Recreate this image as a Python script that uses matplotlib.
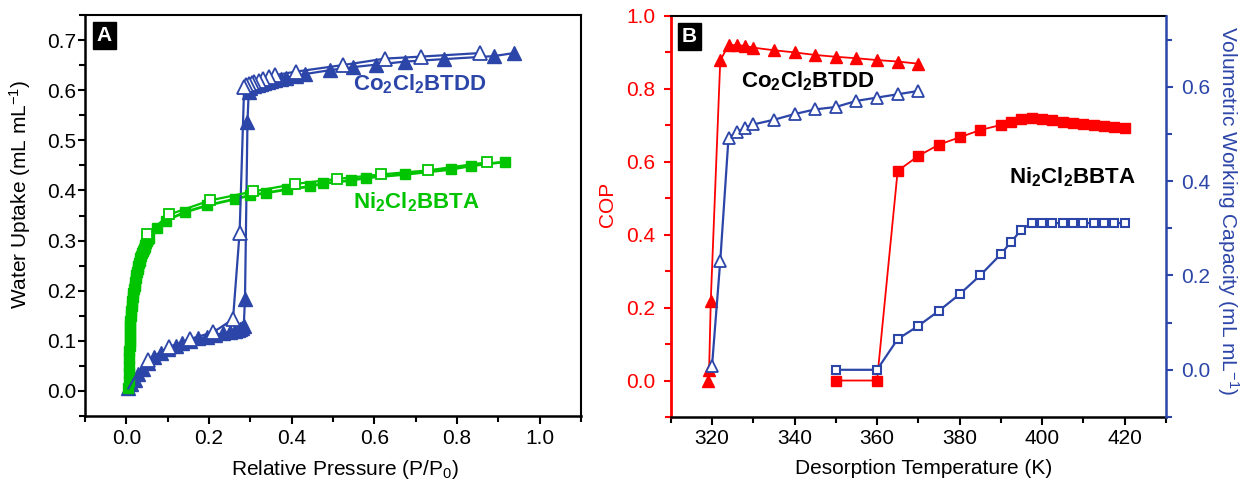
import numpy as np
import matplotlib
matplotlib.use('Agg')
import matplotlib.pyplot as plt
from matplotlib.ticker import MultipleLocator

plt.rcParams['font.family'] = ['Liberation Sans', 'DejaVu Sans']
plt.rcParams['mathtext.fontset'] = 'custom'
plt.rcParams['mathtext.rm'] = 'Liberation Sans'
plt.rcParams['mathtext.bf'] = 'Liberation Sans:bold'
plt.rcParams['mathtext.it'] = 'Liberation Sans:italic'
plt.rcParams['mathtext.default'] = 'regular'

BLUE = '#2c45a8'
GREEN = '#00c400'
RED = '#ff0000'

# ---- panel A: water isotherms ----
co_ads_x = [0.005, 0.012, 0.02, 0.029, 0.04, 0.052, 0.066, 0.085, 0.10, 0.12, 0.135, 0.155,
            0.174, 0.195, 0.215, 0.235, 0.25, 0.262, 0.27, 0.276, 0.28, 0.284, 0.287, 0.293,
            0.296, 0.30, 0.31, 0.318, 0.325, 0.333, 0.342, 0.35, 0.36, 0.373, 0.386, 0.41,
            0.431, 0.493, 0.548, 0.605, 0.674, 0.769, 0.889, 0.937]
co_ads_y = [0.005, 0.013, 0.022, 0.033, 0.043, 0.055, 0.067, 0.075, 0.083, 0.09, 0.095, 0.10,
            0.105, 0.108, 0.112, 0.115, 0.118, 0.12, 0.122, 0.124, 0.126, 0.13, 0.183, 0.536,
            0.596, 0.605, 0.608, 0.611, 0.613, 0.615, 0.617, 0.618, 0.62, 0.622, 0.624, 0.628,
            0.632, 0.64, 0.646, 0.651, 0.657, 0.662, 0.668, 0.674]
co_des_x = [0.855, 0.713, 0.626, 0.523, 0.41, 0.36, 0.345, 0.33, 0.32, 0.31, 0.303, 0.297,
            0.29, 0.285, 0.274, 0.258, 0.21, 0.155, 0.104, 0.052, 0.03, 0.015, 0.005]
co_des_y = [0.674, 0.667, 0.663, 0.65, 0.637, 0.63, 0.626, 0.622, 0.619, 0.616, 0.614, 0.612,
            0.61, 0.607, 0.316, 0.143, 0.117, 0.104, 0.088, 0.062, 0.04, 0.02, 0.005]

ni_ads_x = [0.005, 0.006, 0.006, 0.007, 0.007, 0.007, 0.008, 0.008, 0.008, 0.009, 0.009, 0.010,
            0.011, 0.012, 0.013, 0.014, 0.015, 0.017, 0.018, 0.020, 0.021, 0.023, 0.024, 0.026,
            0.027, 0.029, 0.030, 0.032, 0.034, 0.036, 0.038, 0.040, 0.042, 0.044, 0.046, 0.048,
            0.050, 0.053, 0.056, 0.075, 0.096, 0.143, 0.195, 0.264, 0.298, 0.337, 0.389, 0.445,
            0.475, 0.544, 0.579, 0.674, 0.786, 0.833, 0.915]
ni_ads_y = [0.005, 0.02, 0.035, 0.05, 0.065, 0.08, 0.09, 0.10, 0.11, 0.12, 0.13, 0.14,
            0.15, 0.16, 0.17, 0.18, 0.188, 0.195, 0.203, 0.21, 0.218, 0.225, 0.232, 0.238,
            0.244, 0.25, 0.255, 0.26, 0.265, 0.27, 0.275, 0.28, 0.284, 0.288, 0.292, 0.296,
            0.30, 0.303, 0.306, 0.325, 0.34, 0.357, 0.37, 0.383, 0.39, 0.395, 0.402, 0.408,
            0.414, 0.42, 0.425, 0.432, 0.442, 0.449, 0.457]
ni_des_x = [0.872, 0.73, 0.617, 0.51, 0.409, 0.307, 0.202, 0.104, 0.05, 0.035, 0.025, 0.018,
            0.013, 0.010, 0.008, 0.006, 0.005]
ni_des_y = [0.456, 0.44, 0.432, 0.423, 0.413, 0.398, 0.38, 0.352, 0.313, 0.29, 0.26, 0.23,
            0.20, 0.16, 0.12, 0.08, 0.04]

# ---- panel B: COP and working capacity vs temperature ----
co_T = [319, 319.3, 319.7, 322, 324, 326, 328, 330, 335, 340, 345, 350, 355, 360, 365, 370]
co_cop = [0.0, 0.03, 0.219, 0.878, 0.92, 0.92, 0.918, 0.913, 0.906, 0.90, 0.893, 0.888,
          0.884, 0.879, 0.875, 0.869]
co_T2 = [320, 322, 324, 326, 328, 330, 335, 340, 345, 350, 355, 360, 365, 370]
co_vwc = [0.008, 0.231, 0.492, 0.503, 0.513, 0.52, 0.53, 0.542, 0.552, 0.557, 0.57, 0.577,
          0.584, 0.591]

ni_T = [350, 360, 365, 370, 375, 380, 385, 390, 392.5, 395, 397.5, 400, 402.5, 405, 407.5,
        410, 412.5, 415, 417.5, 420]
ni_cop = [0.0, 0.0, 0.575, 0.616, 0.647, 0.667, 0.687, 0.701, 0.71, 0.717, 0.72, 0.717,
          0.714, 0.71, 0.707, 0.704, 0.701, 0.699, 0.696, 0.693]
ni_vwc = [0.0, 0.0, 0.065, 0.093, 0.125, 0.16, 0.2, 0.245, 0.271, 0.297, 0.311, 0.311,
          0.311, 0.311, 0.311, 0.311, 0.311, 0.311, 0.311, 0.311]

fig = plt.figure(figsize=(12.41, 4.82), dpi=100)
axA = fig.add_axes([0.0685, 0.1369, 0.3997, 0.832])
axB = fig.add_axes([0.5405, 0.1349, 0.3989, 0.832])

# panel A
axA.plot(co_ads_x, co_ads_y, '-^', color=BLUE, lw=1.6, ms=9.5, mfc=BLUE, mec=BLUE, zorder=3)
axA.plot(co_des_x, co_des_y, '-^', color=BLUE, lw=1.6, ms=9.5, mfc='white', mec=BLUE, mew=1.3,
         markevery=list(range(0, 20)), zorder=4)
axA.plot(ni_ads_x, ni_ads_y, '-s', color=GREEN, lw=2, ms=7, mfc=GREEN, mec=GREEN, zorder=3)
axA.plot(ni_des_x, ni_des_y, '-s', color=GREEN, lw=1.6, ms=7, mfc='white', mec=GREEN, mew=1.3,
         markevery=list(range(0, 9)), zorder=4)

axA.set_xlim(-0.1, 1.1)
axA.set_ylim(-0.05, 0.75)
axA.xaxis.set_minor_locator(MultipleLocator(0.1))
axA.yaxis.set_minor_locator(MultipleLocator(0.05))
axA.set_xticks([0.0, 0.2, 0.4, 0.6, 0.8, 1.0])
axA.set_yticks([0.0, 0.1, 0.2, 0.3, 0.4, 0.5, 0.6, 0.7])
axA.tick_params(axis='both', which='both', direction='out', labelsize=15, width=1.5)
axA.tick_params(axis='x', which='major', length=6, pad=3)
axA.tick_params(axis='x', which='minor', length=4)
axA.tick_params(axis='y', which='major', length=5, pad=1.5)
axA.tick_params(axis='y', which='minor', length=4)
for s in ['left', 'bottom']:
    axA.spines[s].set_linewidth(1.8)
for s in ['top', 'right']:
    axA.spines[s].set_linewidth(1.5)

axA.set_xlabel('Relative Pressure (P/P$_0$)', fontsize=15)
axA.xaxis.set_label_coords(0.523, -0.105)
axA.set_ylabel('Water Uptake (mL mL$^{-1}$)', fontsize=15)
axA.yaxis.set_label_coords(-0.105, 0.553)

axA.text(0.549, 0.612, r'Co$_\mathbf{2}$Cl$_\mathbf{2}$BTDD', color=BLUE, fontsize=16,
         fontweight='bold', ha='left', va='center')
axA.text(0.549, 0.377, r'Ni$_\mathbf{2}$Cl$_\mathbf{2}$BBTA', color=GREEN, fontsize=16,
         fontweight='bold', ha='left', va='center')
axA.text(0.039, 0.949, 'A', transform=axA.transAxes, color='white', fontsize=15,
         fontweight='bold', ha='center', va='center',
         bbox=dict(facecolor='black', edgecolor='black', boxstyle='square,pad=0.18'))

# panel B
ax2 = axB.twinx()
axB.plot(co_T, co_cop, '-^', color=RED, lw=1.3, ms=8.5, mfc=RED, mec=RED, zorder=3)
axB.plot(ni_T, ni_cop, '-s', color=RED, lw=1.3, ms=7.5, mfc=RED, mec=RED, zorder=3)
ax2.plot(co_T2, co_vwc, '-^', color=BLUE, lw=1.6, ms=8, mfc='white', mec=BLUE, mew=1.3)
ax2.plot(ni_T, ni_vwc, '-s', color=BLUE, lw=1.6, ms=5.5, mfc='white', mec=BLUE, mew=1.5)

axB.set_xlim(310, 430)
axB.set_ylim(-0.1, 1.0)
ax2.set_ylim(-0.1, 0.75)
axB.xaxis.set_minor_locator(MultipleLocator(10))
axB.yaxis.set_minor_locator(MultipleLocator(0.1))
ax2.yaxis.set_minor_locator(MultipleLocator(0.1))
axB.set_xticks([320, 340, 360, 380, 400, 420])
axB.set_yticks([0.0, 0.2, 0.4, 0.6, 0.8, 1.0])
ax2.set_yticks([0.0, 0.2, 0.4, 0.6])

axB.tick_params(axis='both', which='both', direction='out', labelsize=15, width=1.5)
axB.tick_params(axis='x', which='major', length=6, pad=3)
axB.tick_params(axis='x', which='minor', length=4)
axB.tick_params(axis='y', which='major', length=5, pad=6, colors=RED)
axB.tick_params(axis='y', which='minor', length=4, colors=RED)
ax2.tick_params(axis='y', which='both', direction='out', labelsize=15, width=1.5, colors=BLUE)
ax2.tick_params(axis='y', which='major', length=5, pad=6)
ax2.tick_params(axis='y', which='minor', length=4)

axB.spines['left'].set_color(RED)
axB.spines['left'].set_linewidth(2)
axB.spines['bottom'].set_linewidth(1.8)
axB.spines['top'].set_linewidth(1.5)
axB.spines['right'].set_visible(False)
for s in ['left', 'top', 'bottom']:
    ax2.spines[s].set_visible(False)
ax2.spines['right'].set_color(BLUE)
ax2.spines['right'].set_linewidth(1.8)

axB.set_xlabel('Desorption Temperature (K)', fontsize=15)
axB.xaxis.set_label_coords(0.51, -0.105)
axB.set_ylabel('COP', fontsize=15, color=RED)
axB.yaxis.set_label_coords(-0.108, 0.529)
ax2.set_ylabel('Volumetric Working Capacity (mL mL$^{-1}$)', fontsize=15, color=BLUE,
               rotation=270, va='bottom')
ax2.yaxis.set_label_coords(1.100, 0.514)

axB.text(327, 0.82, r'Co$_\mathbf{2}$Cl$_\mathbf{2}$BTDD', color='black', fontsize=16,
         fontweight='bold', ha='left', va='center')
axB.text(392, 0.557, r'Ni$_\mathbf{2}$Cl$_\mathbf{2}$BBTA', color='black', fontsize=16,
         fontweight='bold', ha='left', va='center')
axB.text(0.038, 0.949, 'B', transform=axB.transAxes, color='white', fontsize=15,
         fontweight='bold', ha='center', va='center',
         bbox=dict(facecolor='black', edgecolor='black', boxstyle='square,pad=0.18'))

fig.savefig('out.png', dpi=100)
